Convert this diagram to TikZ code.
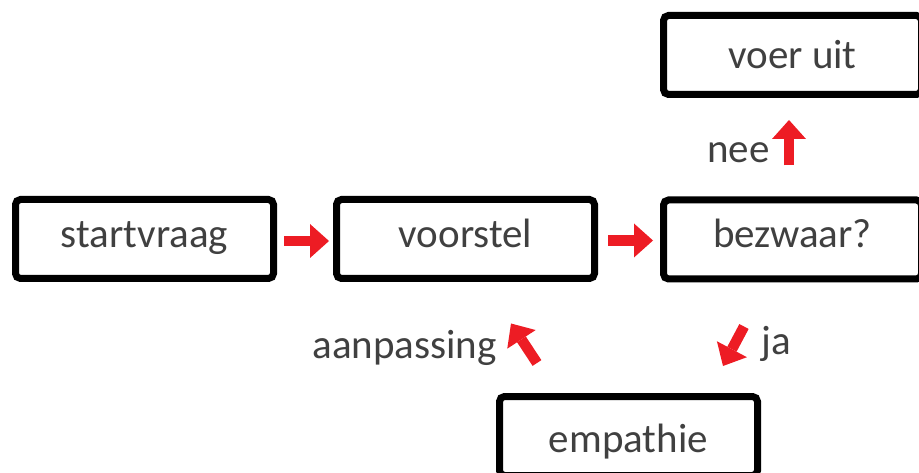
\documentclass[tikz,border=0pt]{standalone}
\usepackage{fontspec}
\setmainfont{Carlito}
\usetikzlibrary{arrows.meta,calc}
\definecolor{arrred}{HTML}{ED1C24}
\definecolor{txt}{HTML}{404040}
\begin{document}
\begin{tikzpicture}[x=1pt,y=-1pt,
  box/.style={draw=black,line width=7pt,rounded corners=5pt,minimum width=258pt,minimum height=79pt,
    inner sep=0pt,font=\fontsize{41}{41}\selectfont,text=txt,text height=27pt,text depth=10pt},
  barrow/.style={draw=arrred,line width=10.5pt,-{Triangle[length=19pt,width=34pt,line width=0pt]}},
  lbl/.style={font=\fontsize{41}{41}\selectfont,text=txt,inner sep=0pt}]
\useasboundingbox (0,0) rectangle (919,473);
\clip (0,0) rectangle (919,473);
\node[box] (s) at (144.5,239) {startvraag};
\node[box] (v) at (465.5,239) {voorstel};
\node[box] (b) at (792.5,239.5) {bezwaar?};
\node[box,text height=32pt,text depth=4pt] (u) at (792.5,55) {voer uit};
\node[box,text height=34pt,text depth=2pt] (e) at (628.5,436) {empathie};
\draw[barrow] ($(s.east)+(7,2)$) -- ($(v.west)+(-4,2)$);
\draw[barrow] ($(v.east)+(10,1.5)$) -- ($(b.west)+(-7,1)$);
\draw[barrow] ($(b.north)+(-3.5,-31)$) -- ($(u.south)+(-3.5,22)$);
\draw[barrow] ($(b.south)+(-48.5,44)$) -- ($(e.north)+(94.5,-27)$);
\draw[barrow] ($(e.north)+(-91.5,-30)$) -- ($(v.south)+(45.5,41.5)$);
\node[lbl,anchor=base east] (nee) at (770,163) {nee};
\node[lbl,anchor=base east] (aan) at (497,358) {aanpassing};
\node[lbl,anchor=base west] (ja) at (761,354) {ja};
\end{tikzpicture}
\end{document}
